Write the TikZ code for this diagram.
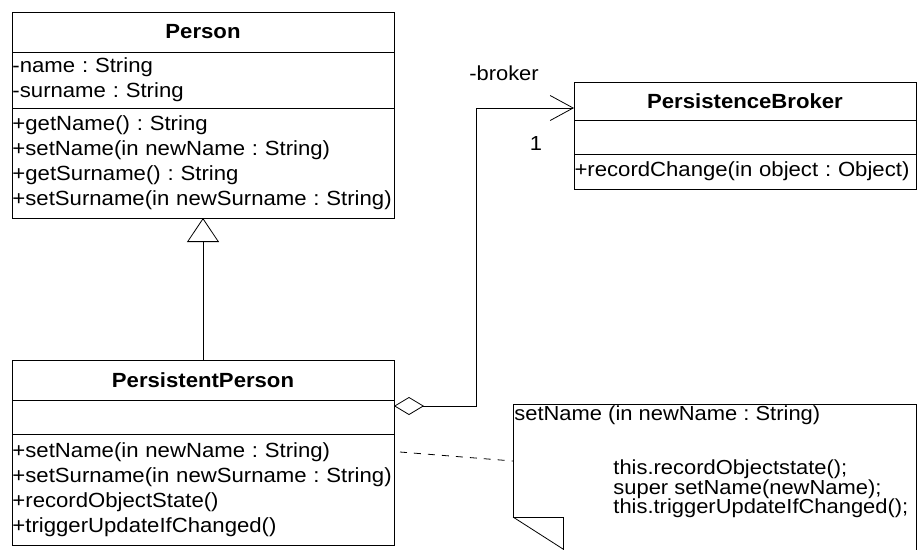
\documentclass[tikz,border=0pt]{standalone}
\usepackage{fontspec}
\setmainfont[FakeStretch=1.08]{Liberation Sans}
\usetikzlibrary{positioning,arrows.meta}
\frenchspacing

\tikzset{
    compart/.style={draw, anchor=north west, inner xsep=0.5pt, inner ysep=0pt, outer sep=0pt,
        font=\fontsize{20.5}{25}\selectfont},
    classhead/.style={compart, minimum width=#1, font=\bfseries\fontsize{20.5}{25}\selectfont},
    members/.style={compart, text width=#1, align=left},
    notetext/.style={anchor=north west, inner sep=1pt, align=left, font=\fontsize{20.3}{18.5}\selectfont},
    rolelabel/.style={inner sep=0pt, font=\fontsize{20.3}{25}\selectfont}
}

\begin{document}
\begin{tikzpicture}[x=1pt, y=-1pt, line width=0.8pt]
    \useasboundingbox (0,0) rectangle (917,550);

    \node[classhead=382pt, minimum height=40pt] (personhead) at (12,12) {Person};
    \node[members=381pt, minimum height=56pt] (personattr) at (personhead.south west)
        {-name : String\\-surname : String};
    \node[members=381pt, minimum height=110pt] (personops) at (personattr.south west)
        {+getName() : String\\+setName(in newName : String)\\+getSurname() : String\\+setSurname(in newSurname : String)};

    \node[classhead=382pt, minimum height=40pt] (pphead) at (12,360) {PersistentPerson};
    \node[members=381pt, minimum height=34pt] (ppattr) at (pphead.south west) {};
    \node[members=381pt, minimum height=111pt] (ppops) at (ppattr.south west)
        {+setName(in newName : String)\\+setSurname(in newSurname : String)\\+recordObjectState()\\+triggerUpdateIfChanged()};

    \node[classhead=342pt, minimum height=38pt] (brokerhead) at (574,82) {PersistenceBroker};
    \node[members=341pt, minimum height=34pt] (brokerattr) at (brokerhead.south west) {};
    \node[members=341pt, minimum height=35pt] (brokerops) at (brokerattr.south west)
        {+recordChange(in object : Object)};

    \draw[-{Triangle[open, length=24pt, width=32pt]}] (pphead.north) -- (personops.south);

    \coordinate (aggfrom) at ([yshift=-6pt]pphead.south east);
    \coordinate (aggbend) at (476,108);
    \coordinate (aggto) at ([yshift=-7pt]brokerhead.west);
    \draw[{Diamond[open, length=30pt, width=18pt]}-{Straight Barb[length=23pt, width=25pt]}]
        (aggfrom) -| (aggbend) -- (aggto);
    \node[rolelabel] (brokerrole) at (504,73) {-broker};
    \node[rolelabel] (brokermult) at (536,144) {1};

    \coordinate (notefold) at (513,517);
    \draw (notefold) -- (513,404) -- (916,404) -- (916,550);
    \draw (notefold) -- (563,517) -- (563,550);
    \draw (notefold) -- (563,549);
    \node[notetext] (notetitle) at (513,404) {setName (in newName : String)};
    \node[notetext] (notecode) at (612,458)
        {this.recordObjectstate();\\super setName(newName);\\this.triggerUpdateIfChanged();};

    \coordinate (dashfrom) at (400,452);
    \coordinate (noteattach) at (513,461);
    \draw[dash pattern=on 7pt off 7pt] (dashfrom) -- (noteattach);
\end{tikzpicture}
\end{document}
